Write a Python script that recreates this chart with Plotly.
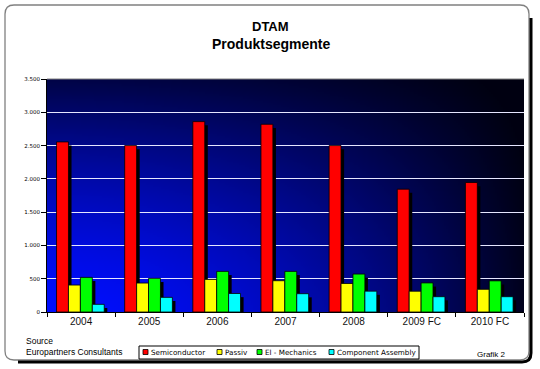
import plotly.graph_objects as go
import numpy as np
import zlib, struct, base64

# ---------------- data ----------------
years = ["2004", "2005", "2006", "2007", "2008", "2009 FC", "2010 FC"]
semiconductor = [2555, 2500, 2860, 2820, 2500, 1845, 1945]
passiv = [405, 435, 490, 470, 428, 312, 341]
el_mechanics = [520, 505, 610, 610, 570, 437, 468]
component_assembly = [115, 220, 278, 275, 313, 230, 230]
series_names = ["Semiconductor", "Passiv", "El - Mechanics", "Component Assembly"]
series_values = [semiconductor, passiv, el_mechanics, component_assembly]
series_colors = ["#ff0000", "#ffff00", "#00ff00", "#00ffff"]
y_ticks = [0, 500, 1000, 1500, 2000, 2500, 3000, 3500]

# ---------------- geometry helpers (pixel -> paper) ----------------
W, H = 540, 369
L, R, T, B = 47, 524, 79, 312
def px(x):
    return (x - L) / (R - L)
def py(y):
    return (B - y) / (B - T)

# ---------------- gradient background image ----------------
def png_datauri(arr):
    h, w, _ = arr.shape
    raw = b"".join(b"\x00" + arr[i].tobytes() for i in range(h))
    def chunk(t, d):
        c = struct.pack(">I", len(d)) + t + d
        return c + struct.pack(">I", zlib.crc32(t + d) & 0xffffffff)
    png = (b"\x89PNG\r\n\x1a\n"
           + chunk(b"IHDR", struct.pack(">IIBBBBB", w, h, 8, 2, 0, 0, 0))
           + chunk(b"IDAT", zlib.compress(raw, 9))
           + chunk(b"IEND", b""))
    return "data:image/png;base64," + base64.b64encode(png).decode()

gw, gh = 240, 120
gx = np.linspace(0, 1, gw)[None, :]
gy = np.linspace(1, 0, gh)[:, None]
f = (1 - 0.72 * gy ** 1.4) * (1 - 0.88 * gx ** 1.7)
f = np.clip(f, 0.07, 1.0)
img = np.zeros((gh, gw, 3), dtype=np.uint8)
img[..., 1] = (f * 14).astype(np.uint8)
img[..., 2] = (f * 255).astype(np.uint8)
bg_uri = png_datauri(img)

fig = go.Figure()

bar_w = 0.175
start = -0.36
# shadows first
for i, (name, vals) in enumerate(zip(series_names, series_values)):
    fig.add_trace(go.Bar(
        x=years, y=vals, base=-55, width=bar_w,
        offset=start + i * bar_w + 0.045,
        marker=dict(color="#000000", line=dict(width=0)),
        showlegend=False, hoverinfo="skip"))
for i, (name, vals, col) in enumerate(zip(series_names, series_values, series_colors)):
    fig.add_trace(go.Bar(
        x=years, y=vals, name=name, width=bar_w,
        offset=start + i * bar_w,
        marker=dict(color=col, line=dict(color="#000000", width=0.8)),
        showlegend=False))

shapes = []
# top border of plot area
shapes.append(dict(type="line", xref="paper", yref="paper", x0=0, x1=1, y0=1, y1=1,
                   line=dict(color="#808080", width=1)))
# outer rounded frame
fx0, fy0, fx1, fy1, rr = 5, 5, 529, 360, 9
def P(x, y):
    return f"{px(x):.5f},{py(y):.5f}"
frame = (f"M {P(fx0, fy0 + rr)} Q {P(fx0, fy0)} {P(fx0 + rr, fy0)} "
         f"L {P(fx1 - rr, fy0)} Q {P(fx1, fy0)} {P(fx1, fy0 + rr)} "
         f"L {P(fx1, fy1 - rr)} Q {P(fx1, fy1)} {P(fx1 - rr, fy1)} "
         f"L {P(fx0 + rr, fy1)} Q {P(fx0, fy1)} {P(fx0, fy1 - rr)} Z")
shapes.append(dict(type="path", xref="paper", yref="paper", path=frame,
                   line=dict(color="#808080", width=1.3), layer="above"))
sx1, sy1 = fx1 + 2, fy1 + 2
shadow = (f"M {P(sx1, fy0 + rr + 4)} L {P(sx1, sy1 - rr)} Q {P(sx1, sy1)} {P(sx1 - rr, sy1)} "
          f"L {P(fx0 + rr + 4, sy1)}")
shapes.append(dict(type="path", xref="paper", yref="paper", path=shadow,
                   line=dict(color="#000000", width=3), layer="above"))

# manual legend
shapes.append(dict(type="rect", xref="paper", yref="paper",
                   x0=px(139), x1=px(419), y0=py(346), y1=py(359),
                   line=dict(color="#000000", width=1), fillcolor="white"))
leg_sw = [143, 217, 257, 329]
leg_tx = [149, 223, 263, 335]
annotations = []
for i, (name, col) in enumerate(zip(series_names, series_colors)):
    shapes.append(dict(type="rect", xref="paper", yref="paper",
                       x0=px(leg_sw[i]), x1=px(leg_sw[i] + 5), y0=py(349.5), y1=py(354.5),
                       line=dict(color="#000000", width=0.8), fillcolor=col))
    annotations.append(dict(text=name, xref="paper", yref="paper", x=px(leg_tx[i]), y=py(352.3),
                            xanchor="left", yanchor="middle", showarrow=False,
                            font=dict(family="DejaVu Sans", size=7.2, color="#000000")))

annotations += [
    dict(text="<b>DTAM</b>", xref="paper", yref="paper", x=px(270), y=py(26),
         xanchor="center", yanchor="middle", showarrow=False,
         font=dict(family="Liberation Sans, Arial", size=13, color="#000000")),
    dict(text="<b>Produktsegmente</b>", xref="paper", yref="paper", x=px(271), y=py(44),
         xanchor="center", yanchor="middle", showarrow=False,
         font=dict(family="Liberation Sans, Arial", size=14, color="#000000")),
    dict(text="Source", xref="paper", yref="paper", x=px(24), y=py(341),
         xanchor="left", yanchor="middle", showarrow=False,
         font=dict(family="Liberation Sans, Arial", size=8.5, color="#000000")),
    dict(text="Europartners Consultants", xref="paper", yref="paper", x=px(24), y=py(352),
         xanchor="left", yanchor="middle", showarrow=False,
         font=dict(family="Liberation Sans, Arial", size=8.5, color="#000000")),
    dict(text="Grafik 2", xref="paper", yref="paper", x=px(508), y=py(354),
         xanchor="right", yanchor="middle", showarrow=False,
         font=dict(family="Liberation Sans, Arial", size=8, color="#000000")),
]

fig.update_layout(
    width=W, height=H,
    margin=dict(l=L, r=W - R, t=T, b=H - B, pad=0),
    paper_bgcolor="white", plot_bgcolor="#000040",
    barmode="overlay",
    separators=",.",
    showlegend=False,
    shapes=shapes,
    annotations=annotations,
    images=[dict(source=bg_uri, xref="paper", yref="paper", x=0, y=1, sizex=1, sizey=1,
                 xanchor="left", yanchor="top", sizing="stretch", layer="below")],
    xaxis=dict(type="category", categoryorder="array", categoryarray=years,
               showline=True, linecolor="#000000", linewidth=1,
               ticks="outside", tickson="boundaries", ticklen=4, tickcolor="#000000",
               showgrid=False, tickfont=dict(family="Liberation Sans, Arial", size=10, color="#111111")),
    yaxis=dict(range=[0, 3500], tickvals=y_ticks, tickformat=",d",
               showline=True, linecolor="#000000", linewidth=1,
               ticks="outside", ticklen=5, tickcolor="#000000",
               showgrid=True, gridcolor="#e6e6ff", gridwidth=1, zeroline=False,
               tickfont=dict(family="DejaVu Sans", size=5.5, color="#000000")),
)

fig.write_html("out.html", config={"displayModeBar": False},
               post_script="document.body.style.margin='0px';document.body.style.overflow='hidden';")
